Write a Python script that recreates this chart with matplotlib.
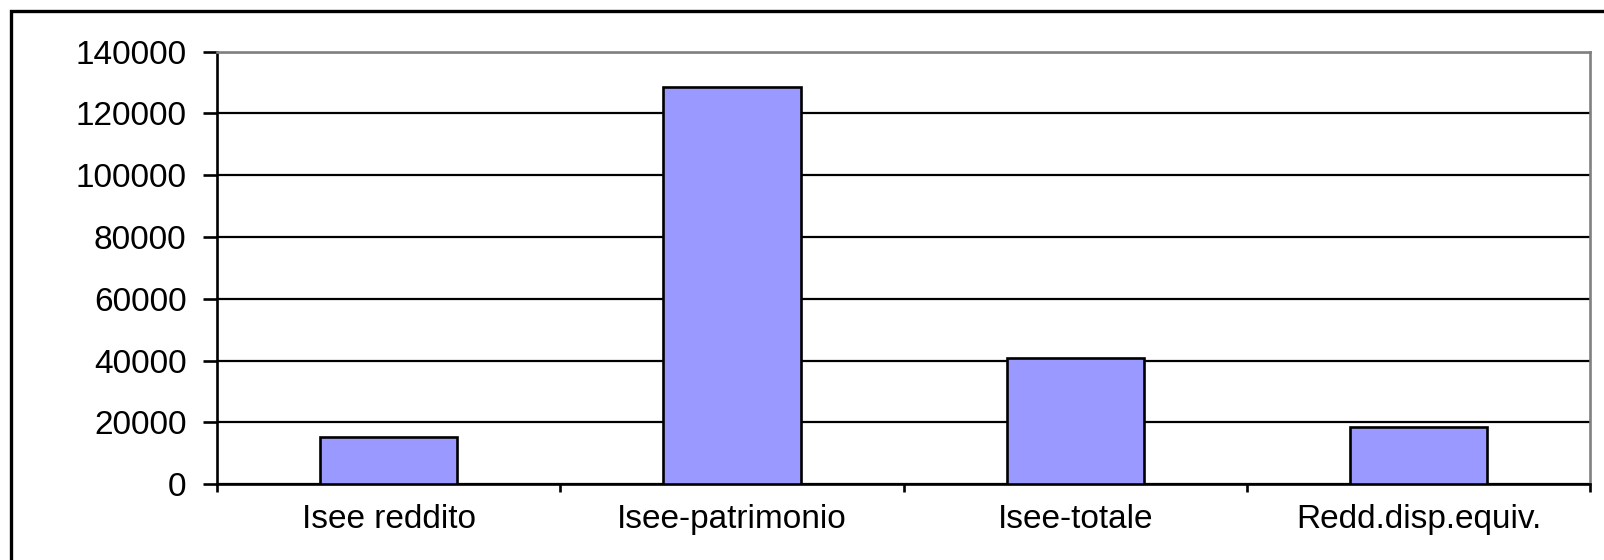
import matplotlib
matplotlib.use("Agg")
import matplotlib.pyplot as plt
from matplotlib.patches import Rectangle

categories = ["Isee reddito", "Isee-patrimonio", "Isee-totale", "Redd.disp.equiv."]
values = [15400, 128700, 40900, 18600]
yticks = [0, 20000, 40000, 60000, 80000, 100000, 120000, 140000]

plt.rcParams["font.family"] = ["Liberation Sans", "DejaVu Sans"]

fig = plt.figure(figsize=(16.04, 5.6), dpi=100)
ax = fig.add_axes([0.1353, 0.1352, 0.9913 - 0.1353, 0.9077 - 0.1352])

# outer chart frame (clipped on the right and bottom)
fig.patches.append(Rectangle((11 / 1604, -0.1), 1.2, 1 - 11 / 560 + 0.1,
                             transform=fig.transFigure, fill=False,
                             edgecolor="black", linewidth=2.4))

x = list(range(len(categories)))
ax.bar(x, values, width=0.4, color="#9999FF", edgecolor="black",
       linewidth=1.9, zorder=3)

ax.set_xlim(-0.5, len(categories) - 0.5)
ax.set_ylim(0, 140000)
ax.set_yticks(yticks)
ax.set_yticklabels([str(v) for v in yticks], fontsize=24)
ax.yaxis.grid(True, color="black", linewidth=1.6, zorder=0)
ax.set_axisbelow(True)

ax.set_xticks([i - 0.5 for i in range(len(categories) + 1)])
ax.set_xticklabels([])
ax.set_xticks(x, minor=True)
ax.set_xticklabels(categories, minor=True, fontsize=24)
ax.tick_params(axis="x", which="major", direction="out", length=6, width=1.9)
ax.tick_params(axis="x", which="minor", length=0, pad=14)
ax.tick_params(axis="y", direction="out", length=10, width=1.9, pad=12)

for side in ("left", "bottom"):
    ax.spines[side].set_color("black")
    ax.spines[side].set_linewidth(1.9)
for side in ("top", "right"):
    ax.spines[side].set_color("#808080")
    ax.spines[side].set_linewidth(1.9)

fig.savefig("out.png", dpi=100)
